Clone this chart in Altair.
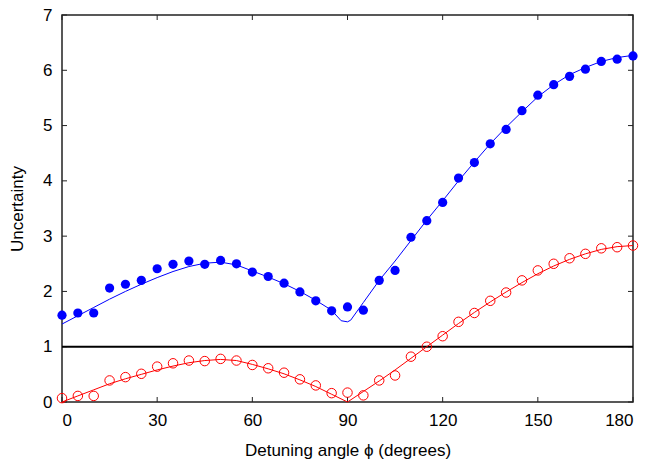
import altair as alt
import pandas as pd

# ---- data ----
angles = list(range(0, 181, 5))
blue_pts = [1.57, 1.61, 1.61, 2.06, 2.13, 2.20, 2.41, 2.49, 2.55, 2.49, 2.56, 2.50,
            2.35, 2.27, 2.15, 1.99, 1.83, 1.65, 1.72, 1.66, 2.20, 2.38, 2.98, 3.28,
            3.61, 4.05, 4.33, 4.67, 4.93, 5.27, 5.55, 5.74, 5.89, 6.02, 6.16, 6.20, 6.26]
red_pts = [0.07, 0.11, 0.11, 0.39, 0.45, 0.51, 0.64, 0.70, 0.75, 0.74, 0.78, 0.75,
           0.67, 0.61, 0.53, 0.41, 0.30, 0.16, 0.17, 0.12, 0.39, 0.48, 0.82, 1.00,
           1.19, 1.45, 1.61, 1.83, 1.98, 2.20, 2.38, 2.50, 2.60, 2.68, 2.78, 2.80, 2.83]

blue_line_x = [0, 5, 10, 15, 20, 25, 30, 35, 40, 45, 50, 55, 60, 65, 70, 75, 80, 85,
               88, 90, 91, 95, 100, 105, 110, 115, 120, 125, 130, 135, 140, 145, 150,
               155, 160, 165, 170, 175, 180]
blue_line_y = [1.41, 1.56, 1.71, 1.86, 2.00, 2.13, 2.25, 2.36, 2.45, 2.51, 2.53, 2.48,
               2.37, 2.26, 2.14, 2.00, 1.84, 1.66, 1.47, 1.45, 1.48, 1.80, 2.20, 2.55,
               2.92, 3.29, 3.64, 4.00, 4.34, 4.67, 4.97, 5.25, 5.52, 5.74, 5.92, 6.05,
               6.16, 6.23, 6.27]
red_line_x = list(range(0, 181, 5))
red_line_y = [0.00, 0.11, 0.22, 0.33, 0.42, 0.50, 0.58, 0.65, 0.71, 0.75, 0.77, 0.75,
              0.68, 0.60, 0.51, 0.40, 0.28, 0.14, 0.00, 0.19, 0.38, 0.58, 0.79, 1.00,
              1.21, 1.42, 1.62, 1.81, 1.99, 2.16, 2.32, 2.46, 2.58, 2.68, 2.76, 2.81, 2.83]

x_ticks = [0, 30, 60, 90, 120, 150, 180]
y_ticks = [0, 1, 2, 3, 4, 5, 6, 7]
ref_level = 1

W, H = 571, 387
FONT = "Liberation Sans"

pts = pd.DataFrame({"angle": angles, "blue": blue_pts, "red": red_pts})
bl = pd.DataFrame({"angle": blue_line_x, "val": blue_line_y})
rl = pd.DataFrame({"angle": red_line_x, "val": red_line_y})
xt = pd.DataFrame({"t": x_ticks})
yt = pd.DataFrame({"t": y_ticks})

xscale = alt.Scale(domain=[0, 180], nice=False, zero=False)
yscale = alt.Scale(domain=[0, 7], nice=False, zero=False)

x_axis = alt.Axis(values=x_ticks, format="d", labelBaseline="alphabetic", labelPadding=23,
                  title="Detuning angle \u03d5 (degrees)",
                  titleBaseline="alphabetic", titleX=W / 2, titleY=53, titleAnchor="middle")
y_axis = alt.Axis(values=y_ticks, format="d", labelPadding=10, labelBaseline="middle",
                  title="Uncertainty",
                  titleBaseline="alphabetic", titleX=-40, titleY=H / 2, titleAnchor="middle")

blue_line = alt.Chart(bl).mark_line(color="#0000ff", strokeWidth=1).encode(
    x=alt.X("angle:Q", scale=xscale, axis=x_axis),
    y=alt.Y("val:Q", scale=yscale, axis=y_axis))
red_line = alt.Chart(rl).mark_line(color="#ff0000", strokeWidth=1).encode(
    x=alt.X("angle:Q", scale=xscale, axis=x_axis), y=alt.Y("val:Q", scale=yscale, axis=y_axis))
blue_dots = alt.Chart(pts).mark_point(filled=True, shape="circle", size=85, color="#0000ff",
                                      opacity=1).encode(
    x=alt.X("angle:Q", scale=xscale, axis=x_axis), y=alt.Y("blue:Q", scale=yscale, axis=y_axis))
red_dots = alt.Chart(pts).mark_point(filled=False, shape="circle", size=90, color="#ff0000",
                                     strokeWidth=1, opacity=1).encode(
    x=alt.X("angle:Q", scale=xscale, axis=x_axis), y=alt.Y("red:Q", scale=yscale, axis=y_axis))
ref_rule = alt.Chart(pd.DataFrame({"v": [ref_level]})).mark_rule(color="black", strokeWidth=2).encode(
    y=alt.Y("v:Q", scale=yscale, axis=y_axis))

tick_len = 5
tcol = "#222222"
xb = alt.Chart(xt).mark_rule(color=tcol, strokeWidth=1).encode(
    x=alt.X("t:Q", scale=xscale, axis=x_axis), y=alt.value(H), y2=alt.value(H - tick_len))
xtp = alt.Chart(xt).mark_rule(color=tcol, strokeWidth=1).encode(
    x=alt.X("t:Q", scale=xscale, axis=x_axis), y=alt.value(0), y2=alt.value(tick_len))
yl = alt.Chart(yt).mark_rule(color=tcol, strokeWidth=1).encode(
    y=alt.Y("t:Q", scale=yscale, axis=y_axis), x=alt.value(0), x2=alt.value(tick_len))
yr = alt.Chart(yt).mark_rule(color=tcol, strokeWidth=1).encode(
    y=alt.Y("t:Q", scale=yscale, axis=y_axis), x=alt.value(W), x2=alt.value(W - tick_len))

chart = alt.layer(
    blue_line, xb, xtp, yl, yr, ref_rule, red_line, red_dots, blue_dots
).properties(
    width=W, height=H,
    autosize=alt.AutoSizeParams(type="none"),
    padding={"left": 54, "top": 7, "right": 8, "bottom": 62},
).configure(
    background="white"
).configure_axis(
    ticks=False, tickSize=0, domain=False, grid=False,
    labelFontSize=17, labelFont=FONT, labelColor="black",
    titleFont=FONT, titleFontSize=17, titleFontWeight="normal", titleColor="black",
).configure_view(
    stroke=tcol, strokeWidth=1.5
)

chart.save("out.html", embed_options={"renderer": "svg", "actions": False})
